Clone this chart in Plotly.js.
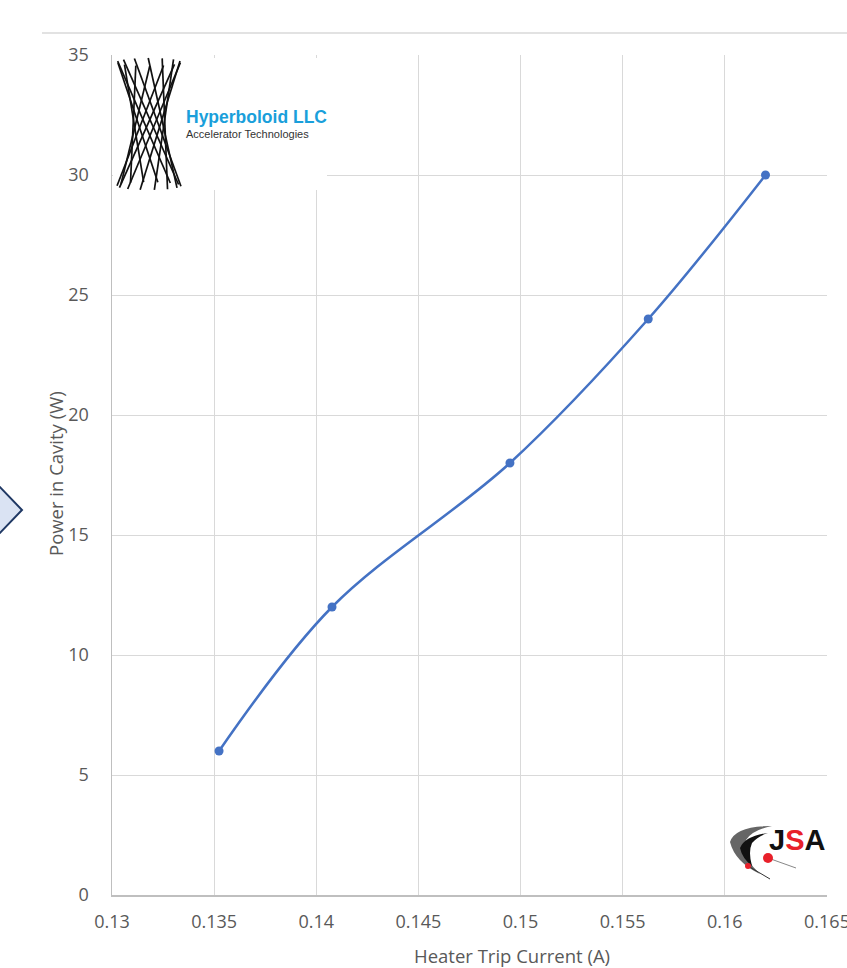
<!DOCTYPE html>
<html>
<head>
<meta charset="utf-8">
<script src="https://cdn.plot.ly/plotly-3.0.1.min.js"></script>
<style>html,body{margin:0;padding:0;background:#fff;}#chart{width:847px;height:968px;}</style>
</head>
<body>
<div id="chart"></div>
<script>
// Data
const heaterTripCurrent = [0.13524, 0.14077, 0.14948, 0.15625, 0.16199];
const powerInCavity = [6, 12, 18, 24, 30];
const xTickValues = [0.13, 0.135, 0.14, 0.145, 0.15, 0.155, 0.16, 0.165];
const xTickLabels = ["0.13", "0.135", "0.14", "0.145", "0.15", "0.155", "0.16", "0.165"];
const yTickValues = [0, 5, 10, 15, 20, 25, 30, 35];

const W = 847, H = 968;
const M = {l: 112, r: 20, t: 55, b: 73};
const PW = W - M.l - M.r, PH = H - M.t - M.b;
function px(x) { return (x - M.l) / PW; }
function py(y) { return (H - M.b - y) / PH; }

const shapes = [];
// separator line at top
shapes.push({type: 'line', xref: 'paper', yref: 'paper', x0: px(42), x1: px(847), y0: py(33), y1: py(33),
  line: {color: '#d9d9d9', width: 1.5}, layer: 'above'});
// left arrow fragment
shapes.push({type: 'path', xref: 'paper', yref: 'paper',
  path: `M ${px(-2)} ${py(485)} L ${px(22)} ${py(510)} L ${px(-2)} ${py(535)} Z`,
  fillcolor: '#dae3f3', line: {color: '#1f3864', width: 2}, layer: 'above'});
// Hyperboloid logo white box
shapes.push({type: 'rect', xref: 'paper', yref: 'paper', x0: px(113), x1: px(327), y0: py(58), y1: py(190),
  fillcolor: '#ffffff', line: {width: 0}, layer: 'above'});
// hyperboloid strands (decorative logo)
const cx = 149, yt = 62, yb = 186, R = 32, phi = 2.1, N = 14;
for (let i = 0; i < N; i++) {
  const th = 2 * Math.PI * i / N + 0.2;
  const xt = cx + R * Math.cos(th), ytt = yt + 4 * Math.sin(th);
  const xb = cx + R * Math.cos(th + phi), ybb = yb + 4 * Math.sin(th + phi);
  shapes.push({type: 'line', xref: 'paper', yref: 'paper', x0: px(xt), y0: py(ytt), x1: px(xb), y1: py(ybb),
    line: {color: '#111111', width: 1.7}, layer: 'above'});
}
// JSA swoosh
shapes.push({type: 'path', xref: 'paper', yref: 'paper',
  path: `M ${px(772)} ${py(826)} Q ${px(735)} ${py(826)} ${px(730)} ${py(842)} Q ${px(735)} ${py(862)} ${px(760)} ${py(874)} Q ${px(742)} ${py(858)} ${px(746)} ${py(840)} Q ${px(752)} ${py(830)} ${px(772)} ${py(826)} Z`,
  fillcolor: '#666666', line: {width: 0}, layer: 'above'});
shapes.push({type: 'path', xref: 'paper', yref: 'paper',
  path: `M ${px(768)} ${py(833)} Q ${px(745)} ${py(836)} ${px(740)} ${py(848)} Q ${px(742)} ${py(858)} ${px(752)} ${py(866)} Q ${px(748)} ${py(852)} ${px(752)} ${py(843)} Q ${px(758)} ${py(836)} ${px(768)} ${py(833)} Z`,
  fillcolor: '#111111', line: {width: 0}, layer: 'above'});
shapes.push({type: 'line', xref: 'paper', yref: 'paper', x0: px(768), y0: py(858), x1: px(796), y1: py(868),
  line: {color: '#888888', width: 1}, layer: 'above'});
shapes.push({type: 'line', xref: 'paper', yref: 'paper', x0: px(748), y0: py(866), x1: px(770), y1: py(879),
  line: {color: '#333333', width: 1}, layer: 'above'});
shapes.push({type: 'circle', xref: 'paper', yref: 'paper', x0: px(763), x1: px(773), y0: py(853), y1: py(863),
  fillcolor: '#e8202a', line: {width: 0}, layer: 'above'});
shapes.push({type: 'circle', xref: 'paper', yref: 'paper', x0: px(745), x1: px(751), y0: py(863), y1: py(869),
  fillcolor: '#e8202a', line: {width: 0}, layer: 'above'});

const annotations = [
  {text: 'Hyperboloid LLC', xref: 'paper', yref: 'paper', x: px(184), y: py(117), xanchor: 'left', yanchor: 'middle',
   showarrow: false, font: {family: 'Liberation Sans, Arial', size: 17.5, color: '#1a9fdb', weight: 'bold'}},
  {text: 'Accelerator Technologies', xref: 'paper', yref: 'paper', x: px(184), y: py(134), xanchor: 'left', yanchor: 'middle',
   showarrow: false, font: {family: 'Liberation Sans, Arial', size: 11, color: '#333333'}},
  {text: 'J<span style="color:#e8202a">S</span>A', xref: 'paper', yref: 'paper', x: px(767), y: py(840), xanchor: 'left', yanchor: 'middle',
   showarrow: false, font: {family: 'Liberation Sans Narrow, Liberation Sans, Arial', size: 29, color: '#111111', weight: 'bold'}},
  {text: 'Heater Trip Current (A)', xref: 'paper', yref: 'paper', x: px(512), y: py(955), xanchor: 'center', yanchor: 'middle',
   showarrow: false, font: {family: 'Open Sans, sans-serif', size: 18.5, color: '#595959'}},
  {text: 'Power in Cavity (W)', xref: 'paper', yref: 'paper', x: px(55), y: py(474), xanchor: 'center', yanchor: 'middle',
   textangle: -90, showarrow: false, font: {family: 'Open Sans, sans-serif', size: 18.5, color: '#595959'}}
];

const trace = {
  x: heaterTripCurrent, y: powerInCavity, type: 'scatter', mode: 'lines+markers',
  line: {color: '#4472c4', width: 2.5, shape: 'spline', smoothing: 1},
  marker: {color: '#4472c4', size: 9}, cliponaxis: false, hoverinfo: 'x+y'
};

const layout = {
  width: W, height: H, margin: M, paper_bgcolor: '#ffffff', plot_bgcolor: '#ffffff', showlegend: false,
  font: {family: 'Open Sans, sans-serif', color: '#595959', size: 18},
  xaxis: {range: [0.13, 0.165001], tickvals: xTickValues, ticktext: xTickLabels, showgrid: true, gridcolor: '#d9d9d9', gridwidth: 1,
    showline: true, linecolor: '#bfbfbf', linewidth: 1.5, zeroline: false, ticks: '', ticklabelstandoff: 10,
    ticklabeloverflow: 'allow', tickfont: {size: 18, color: '#595959'}},
  yaxis: {range: [0, 35.0001], tickvals: yTickValues, showgrid: true, gridcolor: '#d9d9d9', gridwidth: 1,
    showline: true, linecolor: '#bfbfbf', linewidth: 1.5, zeroline: false, ticks: '', ticklabelstandoff: 18,
    ticklabeloverflow: 'allow', tickfont: {size: 18, color: '#595959'}},
  shapes: shapes, annotations: annotations
};

Plotly.newPlot('chart', [trace], layout, {displayModeBar: false, staticPlot: true});
</script>
</body>
</html>
